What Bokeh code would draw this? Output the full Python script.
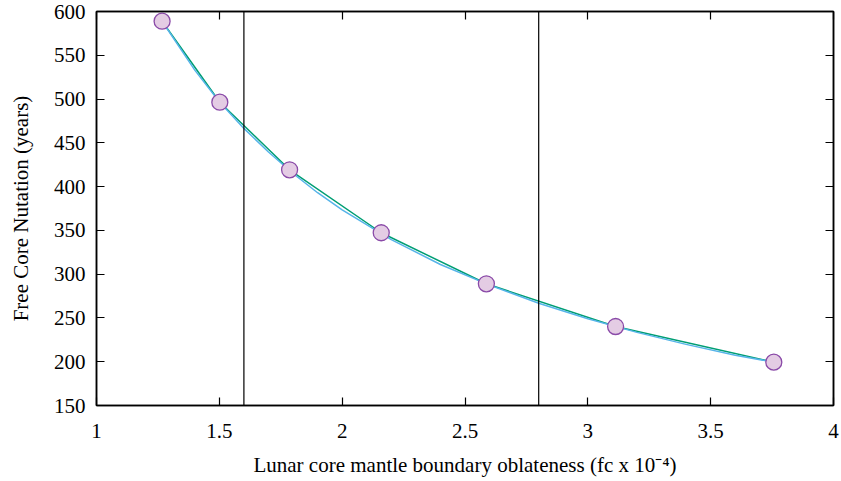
from bokeh.plotting import figure
from bokeh.models import LinearAxis, Span, Range1d, FixedTicker
from bokeh.embed import file_html
from bokeh.resources import INLINE

# data points (oblateness fc x 1e-4, FCN period in years)
fc = [1.267, 1.502, 1.786, 2.159, 2.587, 3.113, 3.757]
fcn = [588.9, 496.4, 419.2, 347.3, 289.0, 240.2, 199.5]

# smooth fitted curve
fit_x = [1.267, 1.4, 1.5, 1.6, 1.7, 1.8, 1.9, 2.0, 2.2, 2.4, 2.6, 2.8, 3.0, 3.2, 3.4, 3.6, 3.757]
fit_y = [588.9, 533.0, 497.0, 466.5, 439.5, 415.0, 393.0, 373.5, 339.5, 311.0, 287.5, 266.8, 249.0, 233.5, 219.8, 207.5, 199.5]

# vertical reference lines
vlines = [1.6, 2.8]

x_ticks = [1, 1.5, 2, 2.5, 3, 3.5, 4]
y_ticks = [150, 200, 250, 300, 350, 400, 450, 500, 550, 600]

FONT = "Liberation Serif"
FS = "21px"

p = figure(width=840, height=480, output_backend="svg", toolbar_location=None,
           x_range=Range1d(1, 4), y_range=Range1d(150, 600),
           min_border_left=96, min_border_right=7, min_border_top=11, min_border_bottom=75,
           background_fill_color="white", border_fill_color="white")
p.grid.visible = False
p.outline_line_color = "black"
p.outline_line_width = 1.5

for ax in (p.xaxis[0], p.yaxis[0]):
    ax.major_label_text_font = FONT
    ax.major_label_text_font_size = FS
    ax.major_label_text_color = "black"
    ax.axis_label_text_font = FONT
    ax.axis_label_text_font_size = FS
    ax.axis_label_text_font_style = "normal"
    ax.axis_label_text_color = "black"
    ax.major_tick_in = 8
    ax.major_tick_out = 0
    ax.minor_tick_line_color = None
    ax.axis_line_width = 1.5
    ax.major_tick_line_width = 1.2

p.xaxis[0].major_label_standoff = 18
p.yaxis[0].major_label_standoff = 11
p.xaxis[0].ticker = FixedTicker(ticks=x_ticks)
p.yaxis[0].ticker = FixedTicker(ticks=y_ticks)
p.xaxis[0].axis_label = "Lunar core mantle boundary oblateness (fc x 10\u207b\u2074)"
p.yaxis[0].axis_label = "Free Core Nutation (years)"
p.xaxis[0].axis_label_standoff = 12
p.yaxis[0].axis_label_standoff = 18

for loc, tk in (("above", x_ticks), ("right", y_ticks)):
    a = LinearAxis(ticker=FixedTicker(ticks=tk), major_label_text_font_size="0px",
                   major_tick_in=8, major_tick_out=0, minor_tick_line_color=None,
                   axis_line_width=1.5, major_tick_line_width=1.2, major_label_standoff=0)
    a.major_label_overrides = {t: "" for t in tk}
    p.add_layout(a, loc)

for v in vlines:
    p.add_layout(Span(location=v, dimension="height", line_color="black", line_width=1.2))

p.line(fc, fcn, line_color="#009e73", line_width=1.5)
p.line(fit_x, fit_y, line_color="#56b4e9", line_width=1.5)
p.scatter(fc, fcn, size=16, fill_color="#e4cce4", line_color="#8a4aa8", line_width=1.3)

open("out.html", "w").write(file_html(p, INLINE))
